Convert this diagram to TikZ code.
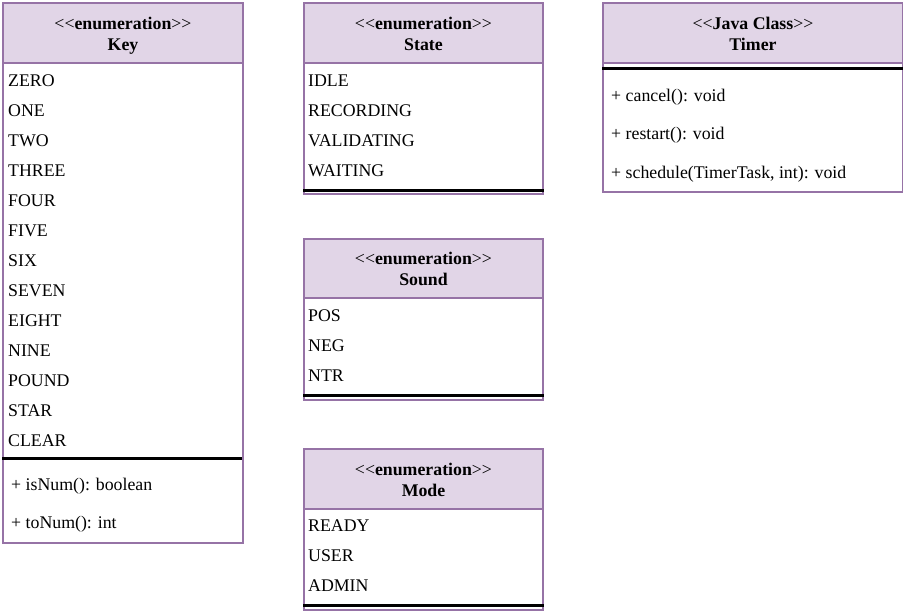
\documentclass[tikz,border=0pt]{standalone}
\usepackage{fontspec}
\setmainfont{Liberation Serif}
\usepackage{xcolor}
\usetikzlibrary{positioning}
\definecolor{umlline}{HTML}{9673A6}
\definecolor{umlfill}{HTML}{E1D5E7}
\newcommand{\stereo}[1]{\mbox{<}\mbox{<}\textbf{#1}\mbox{>}\mbox{>}}

\begin{document}
\begin{tikzpicture}[
    x=1pt, y=-1pt,
    header/.style={rectangle, draw=umlline, fill=umlfill, line width=2pt, anchor=north west, inner sep=0pt, minimum height=60pt, align=center, text height=34pt, text depth=0pt, font=\fontsize{17.8}{21}\selectfont},
    body/.style={rectangle, draw=umlline, fill=white, line width=2pt, anchor=north west, inner sep=0pt},
    item/.style={anchor=west, inner sep=0pt, font=\fontsize{17.8}{20}\selectfont},
    divider/.style={line width=3pt, black},
]
    \useasboundingbox (0,0) rectangle (903,611);

    % Key enumeration
    \node[body, minimum width=240pt, minimum height=480pt] (keybody) at (2,62) {};
    \node[header, minimum width=240pt] (key) at (2,2) {\stereo{enumeration}\\\textbf{Key}};
    \foreach \name [count=\i from 0] in {ZERO, ONE, TWO, THREE, FOUR, FIVE, SIX, SEVEN, EIGHT, NINE, POUND, STAR, CLEAR}
        \node[item] (key\i) at (8,81+30*\i) {\name};
    \coordinate (keysepl) at (2,458);
    \coordinate (keysepr) at (242,458);
    \draw[divider] (keysepl) -- (keysepr);
    \node[item] (isnum) at (11,486) {+ isNum(): boolean};
    \node[item] (tonum) at (11,524) {+ toNum(): int};

    % State enumeration
    \node[body, minimum width=239pt, minimum height=131pt] (statebody) at (303,62) {};
    \node[header, minimum width=239pt] (state) at (303,2) {\stereo{enumeration}\\\textbf{State}};
    \foreach \name [count=\i from 0] in {IDLE, RECORDING, VALIDATING, WAITING}
        \node[item] (state\i) at (308,81+30*\i) {\name};
    \draw[divider] ([yshift=5pt]statebody.south west) -- ([yshift=5pt]statebody.south east);

    % Sound enumeration
    \node[body, minimum width=239pt, minimum height=102pt] (soundbody) at (303,297) {};
    \node[header, minimum width=239pt, minimum height=59pt] (sound) at (303,238) {\stereo{enumeration}\\\textbf{Sound}};
    \foreach \name [count=\i from 0] in {POS, NEG, NTR}
        \node[item] (sound\i) at (308,316+30*\i) {\name};
    \draw[divider] ([yshift=6pt]soundbody.south west) -- ([yshift=6pt]soundbody.south east);

    % Mode enumeration
    \node[body, minimum width=239pt, minimum height=101pt] (modebody) at (303,508) {};
    \node[header, minimum width=239pt] (mode) at (303,448) {\stereo{enumeration}\\\textbf{Mode}};
    \foreach \name [count=\i from 0] in {READY, USER, ADMIN}
        \node[item] (mode\i) at (308,526+30*\i) {\name};
    \draw[divider] ([yshift=6pt]modebody.south west) -- ([yshift=6pt]modebody.south east);

    % Timer class
    \node[body, minimum width=300pt, minimum height=129pt] (timerbody) at (602,62) {};
    \node[header, minimum width=300pt] (timer) at (602,2) {\stereo{Java Class}\\\textbf{Timer}};
    \draw[divider] ([yshift=-6pt]timerbody.north west) -- ([yshift=-6pt]timerbody.north east);
    \node[item] (cancel) at (611,97) {+ cancel(): void};
    \node[item] (restart) at (611,135) {+ restart(): void};
    \node[item] (schedule) at (611,174) {+ schedule(TimerTask, int): void};
\end{tikzpicture}
\end{document}
